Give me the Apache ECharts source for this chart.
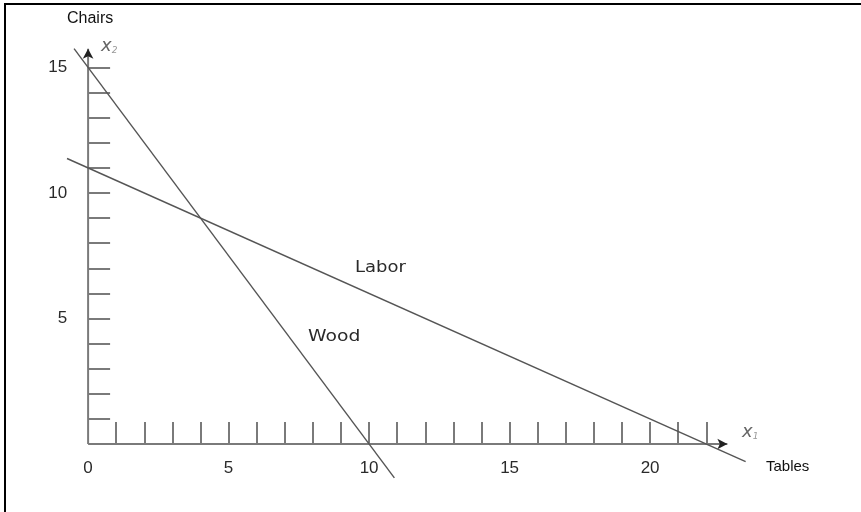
<!DOCTYPE html>
<html>
<head>
<meta charset="utf-8">
<script src="https://cdn.jsdelivr.net/npm/echarts@6/dist/echarts.min.js"></script>
<style>
  html, body { margin: 0; padding: 0; background: #fff; }
  #chart { width: 861px; height: 512px; }
</style>
</head>
<body>
<div id="chart"></div>
<script>
// tick marks and labels
const xTicks = [1, 2, 3, 4, 5, 6, 7, 8, 9, 10, 11, 12, 13, 14, 15, 16, 17, 18, 19, 20, 21, 22];
const xTickLabels = [0, 5, 10, 15, 20];
const yTicks = [1, 2, 3, 4, 5, 6, 7, 8, 9, 10, 11, 12, 13, 14, 15];
const yTickLabels = [5, 10, 15];

// axis arrows (x1 = tables, x2 = chairs)
const x1Axis = [[0, 0], [22.75, 0]];
const x2Axis = [[0, 0], [0, 15.75]];

// constraint lines, drawn end to end
const wood = [[-0.5, 15.75], [10.9, -1.35]];
const labor = [[-0.75, 11.375], [23.4, -0.7]];

const X_MIN = -1, X_MAX = 24, Y_MIN = -2, Y_MAX = 16;
const GRID = { left: 60, right: 98.5, top: 42.4, bottom: 17.8 };
const W = 861, H = 512;
// move the axes from the grid edge onto the zero lines
const xUnit = (W - GRID.left - GRID.right) / (X_MAX - X_MIN);
const yUnit = (H - GRID.top - GRID.bottom) / (Y_MAX - Y_MIN);

const chart = echarts.init(document.getElementById('chart'));

const axisGray = '#7a7a7a';
const lineGray = '#555';
const tickFont = { fontFamily: 'Liberation Sans', fontSize: 17, color: '#2a2a2a' };

function arrowLine(points, rotate) {
  return {
    type: 'line',
    data: points.map((p, i) => i === points.length - 1
      ? { value: p, symbol: 'arrow', symbolSize: [8, 10], symbolRotate: rotate }
      : { value: p, symbol: 'none' }),
    lineStyle: { color: axisGray, width: 2 },
    itemStyle: { color: '#222' },
    z: 3,
    silent: true,
    animation: false
  };
}

function plainLine(points) {
  return {
    type: 'line',
    data: points,
    symbol: 'none',
    lineStyle: { color: lineGray, width: 1.4 },
    clip: false,
    silent: true,
    animation: false,
    z: 4
  };
}

chart.setOption({
  backgroundColor: '#fff',
  animation: false,
  grid: { ...GRID, outerBoundsMode: 'none', containLabel: false },
  xAxis: {
    type: 'value',
    min: X_MIN,
    max: X_MAX,
    position: 'bottom',
    offset: -(0 - Y_MIN) * yUnit,
    axisLine: { show: false, onZero: false },
    splitLine: { show: false },
    axisTick: {
      show: true, inside: true, length: 22,
      customValues: xTicks,
      lineStyle: { color: axisGray, width: 2 }
    },
    axisLabel: { customValues: xTickLabels, margin: 16, ...tickFont }
  },
  yAxis: {
    type: 'value',
    min: Y_MIN,
    max: Y_MAX,
    position: 'left',
    offset: -(0 - X_MIN) * xUnit,
    axisLine: { show: false, onZero: false },
    splitLine: { show: false },
    axisTick: {
      show: true, inside: true, length: 22,
      customValues: yTicks,
      lineStyle: { color: axisGray, width: 2 }
    },
    axisLabel: { customValues: yTickLabels, margin: 21, ...tickFont }
  },
  series: [
    arrowLine(x1Axis, -90),
    arrowLine(x2Axis, 0),
    plainLine(wood),
    plainLine(labor)
  ],
  graphic: [
    // scanned page edge
    { type: 'polyline', shape: { points: [[5, 512], [5, 4], [861, 4]] }, style: { stroke: '#000', lineWidth: 2, fill: null } },
    { type: 'text', left: 67, top: 11, style: { text: 'Chairs', font: '16px "Liberation Sans"', fill: '#111' } },
    { type: 'text', left: 766, top: 459, style: { text: 'Tables', font: '15px "Liberation Sans"', fill: '#111' } },
    { type: 'text', left: 355, top: 261, scaleX: 1.2, style: { text: 'Labor', font: '15px "DejaVu Sans"', fill: '#2a2a2a' } },
    { type: 'text', left: 308, top: 330, scaleX: 1.25, style: { text: 'Wood', font: '15px "DejaVu Sans"', fill: '#2a2a2a' } },
    {
      type: 'text', left: 101, top: 37,
      style: {
        text: '{x|x}{s|2}', fill: '#666',
        rich: {
          x: { font: 'italic 18px "DejaVu Sans"', fill: '#666' },
          s: { font: 'italic 9px "DejaVu Sans"', fill: '#999', verticalAlign: 'bottom' }
        }
      }
    },
    {
      type: 'text', left: 742, top: 423,
      style: {
        text: '{x|x}{s|1}', fill: '#666',
        rich: {
          x: { font: 'italic 18px "DejaVu Sans"', fill: '#666' },
          s: { font: 'italic 9px "DejaVu Sans"', fill: '#999', verticalAlign: 'bottom' }
        }
      }
    }
  ]
});
</script>
</body>
</html>
